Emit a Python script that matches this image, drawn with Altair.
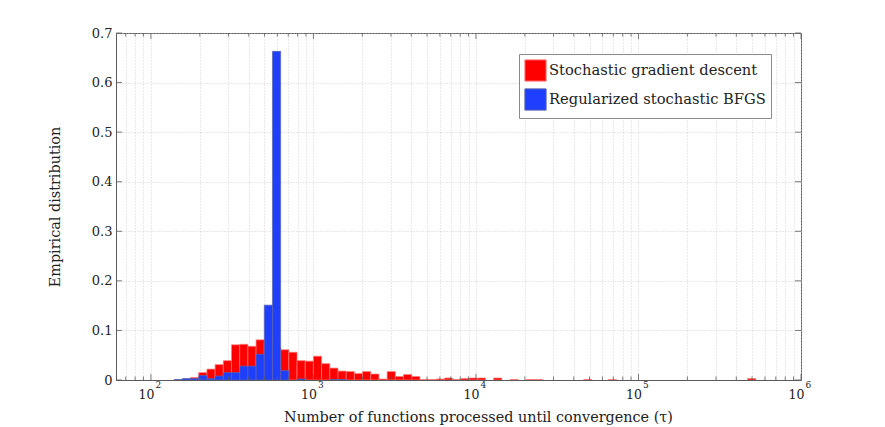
import altair as alt
import pandas as pd

# ---------------- data ----------------
SERIES = ["Stochastic gradient descent", "Regularized stochastic BFGS"]
FILL_COLORS = ["#ff0000", "#1f3fff"]
EDGE_COLORS = ["#ff7a7a", "#5a64a8"]

LOG_BIN_START = 1.992    # log10 of the left edge of bin 0
LOG_BIN_WIDTH = 0.0504   # width of each bin in decades

sgd_bins = [4, 5, 6, 7, 8, 9, 10, 11, 12, 13, 14, 15, 16, 17, 18, 19, 20, 21, 22,
            23, 24, 25, 26, 27, 28, 29, 30, 31, 32, 33, 34, 35, 36, 37, 38, 39, 40,
            42, 44, 46, 47, 53, 56, 73]
sgd_values = [0.001, 0.005, 0.015, 0.022, 0.031, 0.039, 0.071, 0.072, 0.068, 0.081,
              0.075, 0.065, 0.061, 0.056, 0.039, 0.038, 0.048, 0.033, 0.024,
              0.018, 0.017, 0.013, 0.017, 0.012, 0.002, 0.017, 0.007, 0.011, 0.007,
              0.001, 0.001, 0.002, 0.004, 0.001, 0.003, 0.004, 0.004,
              0.004, 0.001, 0.001, 0.001, 0.001, 0.0006, 0.003]

bfgs_bins = [3, 4, 5, 6, 7, 8, 9, 10, 11, 12, 13, 14, 15, 16, 18, 22, 23]
bfgs_values = [0.001, 0.003, 0.003, 0.009, 0.003, 0.008, 0.015, 0.015, 0.028, 0.028,
               0.052, 0.151, 0.663, 0.019, 0.002, 0.001, 0.001]

x_major = [100, 1000, 10000, 100000, 1000000]
x_base = ["10", "10", "10", "10", "10"]
x_exponent = ["2", "3", "4", "5", "6"]
x_minor = [70, 80, 90,
           200, 300, 400, 500, 600, 700, 800, 900,
           2000, 3000, 4000, 5000, 6000, 7000, 8000, 9000,
           20000, 30000, 40000, 50000, 60000, 70000, 80000, 90000,
           200000, 300000, 400000, 500000, 600000, 700000, 800000, 900000]
y_ticks = [0, 0.1, 0.2, 0.3, 0.4, 0.5, 0.6, 0.7]

X_TITLE = "Number of functions processed until convergence (τ)"
Y_TITLE = "Empirical distribution"

# ---------------- build table ----------------
rows = []
for sidx, (name, bins, vals) in enumerate([(SERIES[0], sgd_bins, sgd_values),
                                            (SERIES[1], bfgs_bins, bfgs_values)]):
    for k, v in zip(bins, vals):
        rows.append({
            "series": name,
            "sidx": sidx,
            "lo": 10 ** (LOG_BIN_START + k * LOG_BIN_WIDTH),
            "hi": 10 ** (LOG_BIN_START + (k + 1) * LOG_BIN_WIDTH),
            "value": v,
            "base": 0.0,
        })
df = pd.DataFrame(rows)

W, H = 685, 347
FONT = "DejaVu Serif"
TEXT = "#222222"
AX = "#5a5a5a"

xscale = alt.Scale(type="log", domain=[61, 1000000], nice=False)
yscale = alt.Scale(domain=[0, 0.7], nice=False)

x_axis = alt.Axis(
    values=sorted(x_major + x_minor), grid=True, ticks=False, tickSize=0,
    labels=False,
    title=X_TITLE, titleFont=FONT, titleFontSize=14.4, titleFontWeight="normal",
    titleColor=TEXT, titleX=362, titleY=41, titleBaseline="alphabetic",
)
y_axis = alt.Axis(
    values=y_ticks, grid=True, ticks=False, tickSize=0,
    labelExpr="datum.value == 0 ? '0' : format(datum.value, '.1f')",
    labelFont=FONT, labelFontSize=13, labelColor=TEXT, labelPadding=4,
    labelFlush=False,
    title=Y_TITLE, titleFont=FONT, titleFontSize=14.4, titleFontWeight="normal",
    titleColor=TEXT, titleX=-57, titleY=H / 2, titleBaseline="alphabetic",
    titleAngle=270,
)

legend_kw = dict(
    orient="none", legendX=403, legendY=21, title=None,
    padding=5, strokeColor="#8a8a8a", fillColor="white",
    symbolType="square", symbolSize=450, symbolStrokeWidth=1,
    labelFont=FONT, labelFontSize=14.7, labelColor=TEXT, labelLimit=600,
    rowPadding=2, labelOffset=2,
    labelExpr="datum.label + '\u2003\u2002'",
)

bars = alt.Chart(df).mark_bar(strokeWidth=0.7, clip=True).encode(
    x=alt.X("lo:Q", scale=xscale, axis=x_axis),
    x2="hi:Q",
    y=alt.Y("value:Q", scale=yscale, stack=None, axis=y_axis),
    y2="base:Q",
    color=alt.Color("series:N", scale=alt.Scale(domain=SERIES, range=FILL_COLORS),
                    legend=alt.Legend(**legend_kw)),
    stroke=alt.Stroke("series:N", scale=alt.Scale(domain=SERIES, range=EDGE_COLORS),
                      legend=alt.Legend(**legend_kw)),
    order=alt.Order("sidx:Q"),
)

major_df = pd.DataFrame({"lo": x_major, "base_txt": x_base, "exp_txt": x_exponent})
minor_df = pd.DataFrame({"lo": x_minor})
ytick_df = pd.DataFrame({"value": y_ticks})

def xticks(data, length):
    base = alt.Chart(data).mark_rule(color=AX, strokeWidth=0.8)
    bottom = base.encode(x=alt.X("lo:Q", scale=xscale, axis=x_axis),
                         y=alt.value(H), y2=alt.value(H - length))
    top = base.encode(x=alt.X("lo:Q", scale=xscale, axis=x_axis),
                      y=alt.value(0), y2=alt.value(length))
    return [bottom, top]

# tick labels "10" with raised exponent
lab_base = alt.Chart(major_df).mark_text(
    font=FONT, fontSize=12.5, color=TEXT, align="right", baseline="alphabetic",
    dx=3.5,
).encode(x=alt.X("lo:Q", scale=xscale, axis=x_axis), y=alt.value(H + 18.5),
         text="base_txt:N")
lab_exp = alt.Chart(major_df).mark_text(
    font=FONT, fontSize=9, color=TEXT, align="left", baseline="alphabetic",
    dx=4.5,
).encode(x=alt.X("lo:Q", scale=xscale, axis=x_axis), y=alt.value(H + 8),
         text="exp_txt:N")

ybase = alt.Chart(ytick_df).mark_rule(color=AX, strokeWidth=0.8)
yleft = ybase.encode(y=alt.Y("value:Q", scale=yscale, axis=y_axis),
                     x=alt.value(0), x2=alt.value(6))
yright = ybase.encode(y=alt.Y("value:Q", scale=yscale, axis=y_axis),
                      x=alt.value(W), x2=alt.value(W - 6))

chart = alt.layer(
    bars, *xticks(major_df, 6), *xticks(minor_df, 3.5), yleft, yright,
    lab_base, lab_exp
).properties(
    width=W, height=H,
    padding={"left": 108, "top": 25, "right": 76, "bottom": 47},
    autosize=alt.AutoSizeParams(type="none"),
).configure_view(
    stroke=AX, strokeWidth=1
).configure_axis(
    domainColor=AX, domainWidth=1,
    gridColor="#c4c4c4", gridDash=[1, 2], gridWidth=0.8,
)

chart.save("out.html", embed_options={"renderer": "svg", "actions": False})
